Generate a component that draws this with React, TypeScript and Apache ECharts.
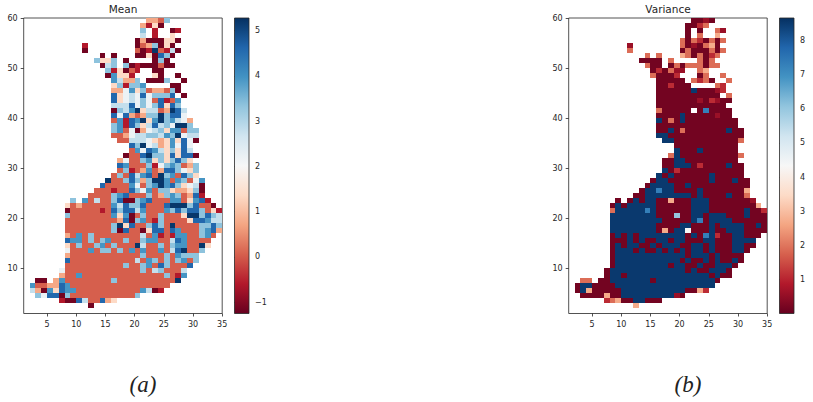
import React, { useEffect, useRef } from "react";
import * as echarts from "echarts";

const RDBU = ["#67001f", "#b2182b", "#d6604d", "#f4a582", "#fddbc7", "#f7f7f7", "#d1e5f0", "#92c5de", "#4393c3", "#2166ac", "#053061"];

const MEAN_RANGE = [-1.25, 5.28];
const VAR_RANGE = [0.01, 8.65];
const X_TICKS = [5, 10, 15, 20, 25, 30, 35];
const Y_TICKS = [10, 20, 30, 40, 50, 60];
const MEAN_BAR_TICKS = [-1, 0, 1, 2, 3, 4, 5];
const VAR_BAR_TICKS = [1, 2, 3, 4, 5, 6, 7, 8];

const MEAN_LEVELS: Record<string, number> = { a: -1.15, b: -0.6, c: 0.05, d: 0.75, e: 1.35, f: 2.2, g: 2.8, h: 3.35, i: 3.95, j: 4.6, k: 5.2 };
const VAR_LEVELS: Record<string, number> = { a: 0.15, b: 0.6, c: 1.1, d: 1.9, e: 2.7, f: 3.5, g: 4.3, h: 6.0, i: 7.3, k: 8.5 };

// [y, "startX:codes ..."] : one code per unit cell, "." is an empty cell
const MEAN_ROWS: [number, string][] = [
  [59, "22:ddch"],
  [58, "21:dbea"],
  [57, "21:h.b..ab"],
  [56, "21:g.b..e"],
  [55, "20:adaaaeea"],
  [54, "11:b 20:acdhaea"],
  [53, "11:a 20:cabkcbga"],
  [52, "14:a 16:a 20:aaeajha"],
  [51, "13:heeh 18:a 23:aha"],
  [50, "14:agh 18:habaaacaa"],
  [49, "15:hbeacb 23:aa"],
  [48, "15:aieeb 23:ea 27:a"],
  [47, "16:igddh 22:aaah 28:a"],
  [46, "16:ehbhhi 26:aa"],
  [45, "16:ddfiehcddcha"],
  [44, "16:jefgfjfhhhj 28:a"],
  [43, "16:jefgfhfcjbci"],
  [42, "16:gggjfhfhjejh"],
  [41, "16:ahgikeggcdkjg"],
  [40, "16:jfjdcdhhkhjjf"],
  [39, "16:cibjikeikhigfd"],
  [38, "16:hibjhegjghfkkh"],
  [37, "16:hicfadfgheiichh"],
  [36, "16:ccdfgghhgihkfgg"],
  [35, "17:ccgggfedeiejfa"],
  [34, "19:jhkfgdeifjf"],
  [33, "19:cifjigehejg"],
  [32, "18:accjkhhejejja"],
  [31, "17:dfcchiehehjhe"],
  [30, "17:jiccchbfhihcdh"],
  [29, "17:chbcdicdjjhfeh"],
  [28, "16:chcjgijckhicjhe"],
  [27, "15:kcchjhdhkkicihcfi"],
  [26, "14:jccccifchikijhefga"],
  [25, "13:cccbccjhfichheddeha"],
  [24, "12:cccchijccchcdhihcdjb"],
  [23, "9:h 11:icgcchjaahijccciiceijb"],
  [22, "8:ecdcccccigjhhjcccjkkkhjcca"],
  [21, "8:acccccbcjhjjgicccihjhjjhceb"],
  [20, "8:hcccccccieiachcchcccekkhjhg"],
  [19, "8:cccccccccdjahicbhccccejjigg"],
  [18, "8:cccccccchkejcchjhckcccchhjh"],
  [17, "8:cccccccchajccaejjcjiccchijd"],
  [16, "8:dcichccccccccgcibcbiicchic"],
  [15, "8:jiichchicchcchiiccgjicccc"],
  [14, "8:echcchichccckgcchchiiccke"],
  [13, "8:fcccichhchcicicc" + "icgjkcch"],
  [12, "8:dcccccccccccchccchcihhh"],
  [11, "8:jcccccccccccgcihchchich"],
  [10, "8:cccccccccchcchicjhcccj"],
  [9, "7:fccccccccccccchcghcccg"],
  [8, "7:dccicccccccccccccchcbi"],
  [7, "3:aa 6:dicccccccchcccccccccck"],
  [6, "2:iccddjiccccccccccccccccc"],
  [5, "2:gdaiejiicccccccccccigab"],
  [4, "3:hfjjahccccccccccch"],
  [3, "7:baajgccjde"],
  [2, "12:a"],
];

const VAR_ROWS: [number, string][] = [
  [59, "22:aaba"],
  [58, "21:aacd"],
  [57, "21:a.a..db"],
  [56, "21:a.d..e"],
  [55, "20:dadcadad"],
  [54, "11:b 20:dabadea"],
  [53, "11:d 20:adaaadad"],
  [52, "14:d 16:d 20:edadacd"],
  [51, "13:aaaa 18:d 23:dad"],
  [50, "14:daa 18:adadddadd"],
  [49, "15:acadbb 23:de"],
  [48, "15:daaac 23:ad 27:d"],
  [47, "16:aaaaa 22:dcda 28:d"],
  [46, "16:aacaaa 26:dc"],
  [45, "16:aaaaaakaaabc"],
  [44, "16:aaaaaaaaaaa 28:d"],
  [43, "16:aaaaaaabacbaa"],
  [42, "16:aaaaaaaaaaaa"],
  [41, "16:daaaaa.aiaaaa"],
  [40, "16:aaaakaaaaabaa"],
  [39, "16:kadakaaaaaaaaa"],
  [38, "16:aaaaaaaaaaaaaa"],
  [37, "16:aakadaaaaaaakaa"],
  [36, "16:kkaaaaaaaaaaaaa"],
  [35, "17:kkaaaaaaaaaaad"],
  [34, "19:aaaaaaaaaaa"],
  [33, "19:kaaakaaaaaa"],
  [32, "18:dkaaaaaaaaaad"],
  [31, "17:aakkaaaaaaaaa"],
  [30, "17:aakkkacaaaakaa"],
  [29, "17:kacaaaaaaaaaaa"],
  [28, "16:kakaaaaaakaaaaa"],
  [27, "15:akkaaaaaaakaaakaa"],
  [26, "14:akkkkaakaaaaaaaaaa"],
  [25, "13:akkikkaaaakaaaaaaae"],
  [24, "12:aakkkkkkkkakaaaakaad"],
  [23, "9:a 11:akakkaaeaaakkkaaaaaaab"],
  [22, "8:akakkkkkaaaaaakkkaaaaaaaae"],
  [21, "8:dkkkkkikaaaaaakkkaaaaaakaac"],
  [20, "8:kkkkkkkkaaahaakkakkkaaakaaa"],
  [19, "8:kkkkkkkkkaaaaakiakkkkaaaaaa"],
  [18, "8:kkkkkkkkaaaakkaaakakkkkaaka"],
  [17, "8:kkkkkkkkaeakkgaaakaakkkaaaa"],
  [16, "8:akakakkkkkkkkakaikcaakkaaa"],
  [15, "8:aaakakaakkakkaaakkaaakkkk"],
  [14, "8:akakkaakakkkaakkakaaakkaa"],
  [13, "8:akkkakaakakakakkakaaakka"],
  [12, "8:akkkkkkkkkkkkakkkakaaaa"],
  [11, "8:akkkkkkkkkkkakaakakaaka"],
  [10, "8:akkkkkkkkkakkaakaakkka"],
  [9, "7:akkkkkkkkkkkkkakaakkka"],
  [8, "7:akkakkkkkkkkkkkkkkakaa"],
  [7, "3:dd 6:aakkkkkkkakkkkkkkkkka"],
  [6, "2:akkaaaakkkkkkkkkkkkkkkkk"],
  [5, "2:akeaaaaakkkkkkkkkkkaaec"],
  [4, "3:aaaaeaakkkkkkkkkba"],
  [3, "7:cdeaakkaaa"],
  [2, "12:e"],
];

function cells(rows: [number, string][], levels: Record<string, number>) {
  const out: number[][] = [];
  for (const [y, text] of rows) {
    for (const token of text.split(" ")) {
      const [start, codes] = token.split(":");
      [...codes].forEach((code, i) => {
        if (code !== ".") out.push([Number(start) + i, y, levels[code]]);
      });
    }
  }
  return out;
}

function rdbu(t: number) {
  const p = Math.max(0, Math.min(1, t)) * (RDBU.length - 1);
  const i = Math.min(RDBU.length - 2, Math.floor(p));
  const f = p - i;
  const ch = (h: string, k: number) => parseInt(h.slice(1 + 2 * k, 3 + 2 * k), 16);
  const mix = [0, 1, 2].map((k) => Math.round(ch(RDBU[i], k) * (1 - f) + ch(RDBU[i + 1], k) * f));
  return `rgb(${mix[0]},${mix[1]},${mix[2]})`;
}

const INK = "#262626";
const FONT = "DejaVu Sans";

function heatSeries(data: number[][], range: number[], axis: number) {
  return {
    type: "custom",
    xAxisIndex: axis,
    yAxisIndex: axis,
    clip: true,
    encode: { x: 0, y: 1 },
    data,
    renderItem: (_: any, api: any) => {
      const a = api.coord([api.value(0), api.value(1) + 1]);
      const b = api.coord([api.value(0) + 1, api.value(1)]);
      const color = rdbu((api.value(2) - range[0]) / (range[1] - range[0]));
      const x0 = Math.round(a[0]);
      const y0 = Math.round(a[1]);
      return {
        type: "rect",
        shape: { x: x0, y: y0, width: Math.round(b[0]) - x0, height: Math.round(b[1]) - y0 },
        style: { fill: color, stroke: null },
      };
    },
  };
}

function barSeries(range: number[], axis: number) {
  return {
    type: "custom",
    xAxisIndex: axis,
    yAxisIndex: axis,
    encode: { x: 0, y: 1 },
    data: [[0, range[0], 1, range[1]]],
    renderItem: (_: any, api: any) => {
      const a = api.coord([api.value(0), api.value(3)]);
      const b = api.coord([api.value(2), api.value(1)]);
      return {
        type: "rect",
        shape: { x: a[0], y: a[1], width: b[0] - a[0], height: b[1] - a[1] },
        style: {
          stroke: INK,
          lineWidth: 0.8,
          fill: new echarts.graphic.LinearGradient(
            0, 1, 0, 0,
            RDBU.map((color, i) => ({ offset: i / (RDBU.length - 1), color })),
          ),
        },
      };
    },
  };
}

const labelStyle = { color: INK, fontFamily: FONT, fontSize: 8, hideOverlap: false, showMinLabel: true, showMaxLabel: true };
const tickStyle = { length: 3, lineStyle: { color: INK, width: 0.8 } };

function mapAxes(grid: number) {
  return {
    x: {
      type: "value", gridIndex: grid, min: 1, max: 35,
      axisLine: { show: false }, splitLine: { show: false },
      axisTick: { ...tickStyle, customValues: X_TICKS },
      axisLabel: { ...labelStyle, margin: 6.5, customValues: X_TICKS },
    },
    y: {
      type: "value", gridIndex: grid, min: 1, max: 60,
      axisLine: { show: false }, splitLine: { show: false },
      axisTick: { ...tickStyle, customValues: Y_TICKS },
      axisLabel: { ...labelStyle, margin: 6, customValues: Y_TICKS },
    },
  };
}

function barAxes(grid: number, range: number[], ticks: number[]) {
  return {
    x: { type: "value", gridIndex: grid, min: 0, max: 1, show: false },
    y: {
      type: "value", gridIndex: grid, min: range[0], max: range[1], position: "right",
      axisLine: { show: false }, splitLine: { show: false },
      axisTick: { ...tickStyle, customValues: ticks },
      axisLabel: { ...labelStyle, margin: 6, customValues: ticks, formatter: (v: number) => String(v).replace("-", "\u2212") },
    },
  };
}

export default function App() {
  const ref = useRef<HTMLDivElement>(null);
  useEffect(() => {
    document.body.style.margin = "0";
    const chart = echarts.init(ref.current!, null, { renderer: "svg" });
    const m0 = mapAxes(0);
    const m1 = mapAxes(2);
    const b0 = barAxes(1, MEAN_RANGE, MEAN_BAR_TICKS);
    const b1 = barAxes(3, VAR_RANGE, VAR_BAR_TICKS);
    const frame = { show: true, borderColor: INK, borderWidth: 0.8, backgroundColor: "transparent" };
    const titleStyle = { color: INK, fontFamily: FONT, fontSize: 10.5, fontWeight: "normal" };
    chart.setOption({
      animation: false,
      backgroundColor: "#ffffff",
      title: [
        { text: "Mean", left: 123, top: 3, padding: 0, textAlign: "center", textStyle: titleStyle },
        { text: "Variance", left: 668, top: 3, padding: 0, textAlign: "center", textStyle: titleStyle },
      ],
      grid: [
        { left: 23.7, top: 18, width: 198.5, height: 295.5, ...frame },
        { left: 234.5, top: 18, width: 14.5, height: 295.5 },
        { left: 568.7, top: 18, width: 198.5, height: 295.5, ...frame },
        { left: 779.5, top: 18, width: 14.5, height: 295.5 },
      ],
      xAxis: [m0.x, b0.x, m1.x, b1.x],
      yAxis: [m0.y, b0.y, m1.y, b1.y],
      series: [
        heatSeries(cells(MEAN_ROWS, MEAN_LEVELS), MEAN_RANGE, 0),
        barSeries(MEAN_RANGE, 1),
        heatSeries(cells(VAR_ROWS, VAR_LEVELS), VAR_RANGE, 2),
        barSeries(VAR_RANGE, 3),
      ],
      graphic: [
        { type: "text", x: 143, y: 384, style: { text: "(a)", fill: "#222", font: "italic 23px 'Liberation Serif'", textAlign: "center", textVerticalAlign: "middle" } },
        { type: "text", x: 688, y: 384, style: { text: "(b)", fill: "#222", font: "italic 23px 'Liberation Serif'", textAlign: "center", textVerticalAlign: "middle" } },
      ],
    });
    return () => chart.dispose();
  }, []);
  return <div ref={ref} style={{ width: 813, height: 402 }} />;
}
